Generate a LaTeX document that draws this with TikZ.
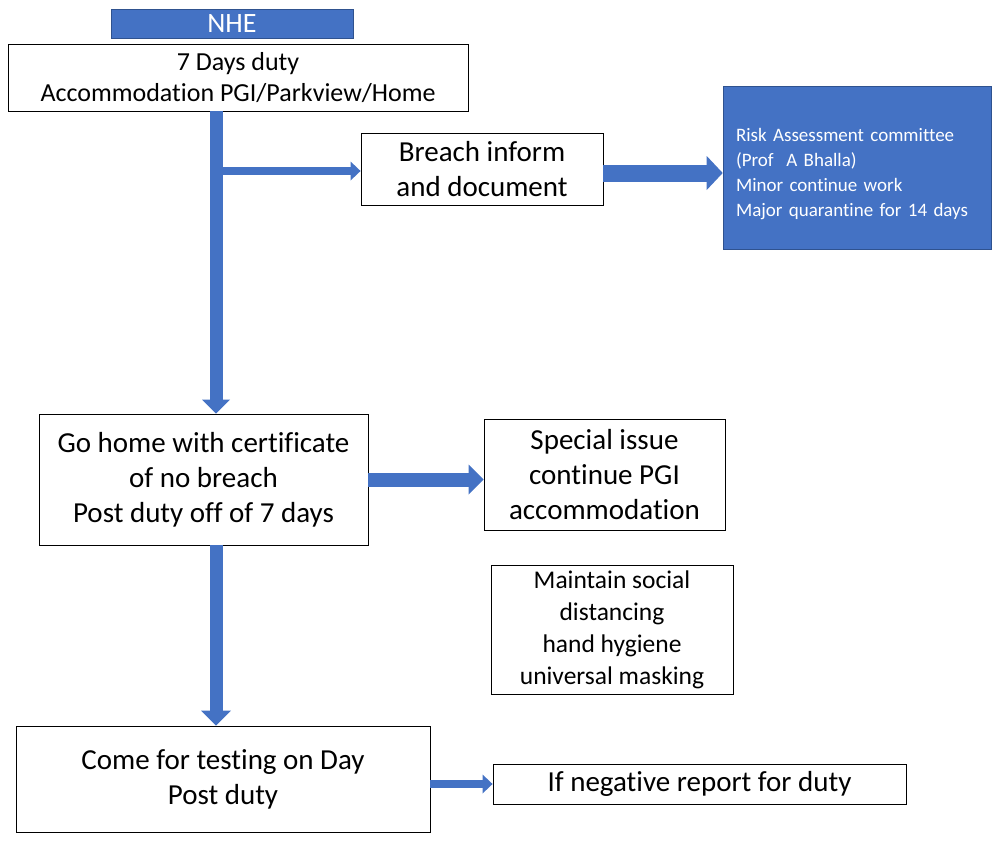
\documentclass[tikz,border=0pt]{standalone}
\usepackage{fontspec}
\setmainfont{Carlito}[Ligatures=NoCommon]
\usetikzlibrary{calc}
\usetikzlibrary{positioning, arrows.meta}

\definecolor{nheblue}{HTML}{4472C4}
\definecolor{nheedge}{HTML}{2F528F}

\begin{document}
\begin{tikzpicture}[
  x=1pt, y=-1pt,
  box/.style={rectangle, draw=black, line width=0.9pt, inner sep=0pt, align=center, font=\fontsize{29}{35}\selectfont},
  bluebox/.style={rectangle, fill=nheblue, draw=nheedge, line width=0.6pt, inner sep=0pt, text=white},
  arrow/.style={draw=nheblue, line width=14pt, -{Triangle[length=15pt, width=30pt, line width=0pt]}},
  bigarrow/.style={draw=nheblue, line width=17pt, -{Triangle[length=16pt, width=34pt, line width=0pt]}},
  smallarrow/.style={draw=nheblue, line width=8pt, -{Triangle[length=10pt, width=19pt, line width=0pt]}}
]
\useasboundingbox (0,0) rectangle (994,843);

\node[bluebox, minimum width=242pt, minimum height=29pt, font=\fontsize{28}{32}\selectfont] (nhe) at (232,23.5) {NHE};
\node[box, minimum width=460pt, minimum height=67pt, font=\fontsize{26}{31}\selectfont] (duty) at (238,77.5) {7 Days duty\\Accommodation PGI/Parkview/Home};
\node[box, minimum width=242pt, minimum height=72pt] (breach) at (482,169) {Breach inform\\and document};
\node[bluebox, minimum width=268pt, minimum height=163pt, text width=242pt, inner xsep=13pt, align=left, font=\fontsize{19}{25}\selectfont] (risk) at (857,167.5) {\rule{0pt}{26pt}Risk Assessment committee\\(Prof\ \ A Bhalla)\\Minor continue work\\Major quarantine for 14 days};
\node[box, minimum width=329pt, minimum height=131pt] (home) at (203.5,479.5) {Go home with certificate\\of no breach\\Post duty off of 7 days};
\node[box, minimum width=241pt, minimum height=111pt] (special) at (604.5,474.5) {Special issue\\continue PGI\\accommodation};
\node[box, minimum width=242pt, minimum height=129pt, font=\fontsize{25.5}{32}\selectfont] (hygiene) at (612,629.5) {Maintain social\\distancing\\hand hygiene\\universal masking};
\node[box, minimum width=414pt, minimum height=106pt] (testing) at (223,779) {Come for testing on Day\\Post duty};
\node[box, minimum width=413pt, minimum height=40pt] (negative) at (699.5,784) {If negative report for duty};

\coordinate (spine) at (216,0);
\coordinate (fork) at (216,171);

\draw[arrow, line width=13pt, -{Triangle[length=14pt, width=28pt, line width=0pt]}] (spine |- duty.south) -- (spine |- home.north);
\draw[smallarrow] (fork) -- (fork -| breach.west);
\draw[bigarrow] ([yshift=-4pt]breach.east) -- ([yshift=-4pt]breach.east -| risk.west);
\draw[arrow] (home.east) -- (home.east -| special.west);
\draw[arrow, line width=13pt] (spine |- home.south) -- (spine |- testing.north);
\draw[smallarrow] (testing.east |- negative.west) -- (negative.west);
\end{tikzpicture}
\end{document}
